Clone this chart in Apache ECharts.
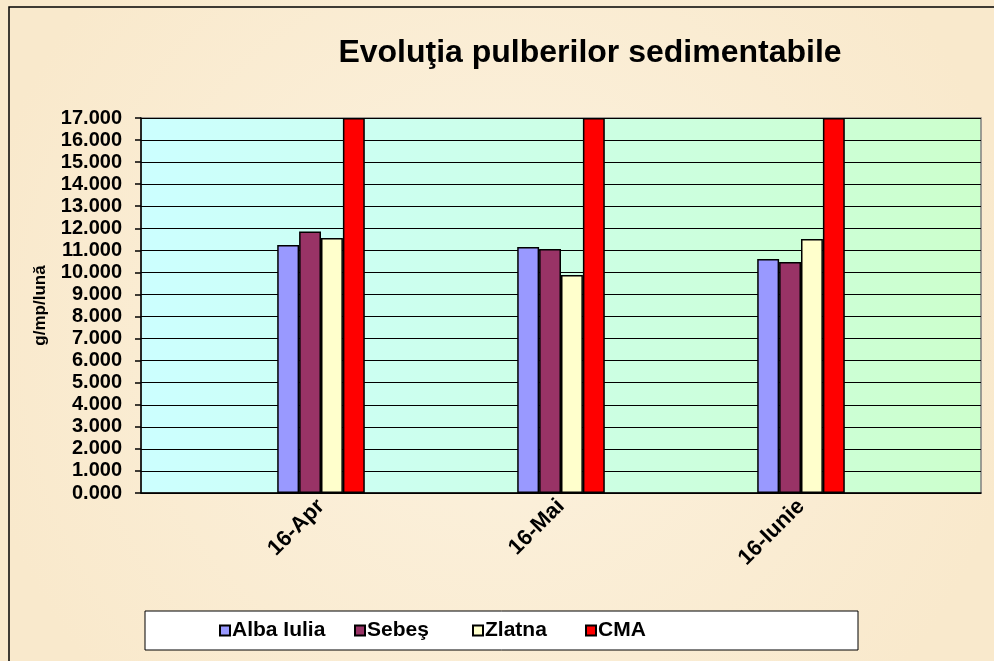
<!DOCTYPE html>
<html>
<head>
<meta charset="utf-8">
<script src="https://cdn.jsdelivr.net/npm/echarts@6/dist/echarts.min.js"></script>
<style>
  html, body { margin: 0; padding: 0; background: #f9ebd2; }
  #chart { width: 994px; height: 661px; }
</style>
</head>
<body>
<div id="chart"></div>
<script>
// Excel-style date axis: 7 slots, data only on every second one
const categories = ['', '16-Apr', '', '16-Mai', '', '16-Iunie', '']
const albaIulia = [null, 11.24, null, 11.15, null, 10.61, null]
const sebes = [null, 11.85, null, 11.06, null, 10.47, null]
const zlatna = [null, 11.56, null, 9.88, null, 11.51, null]
const cma = [null, 17, null, 17, null, 17, null]
const seriesNames = ['Alba Iulia', 'Sebeş', 'Zlatna', 'CMA']
const seriesColors = ['#9999ff', '#993366', '#ffffcc', '#ff0000']
const yMax = 17
const yStep = 1

const font = "'Liberation Sans', Arial, sans-serif"
const chart = echarts.init(document.getElementById('chart'))

const legendLeft = [219, 354, 472, 585]

function bar(name, data, color) {
  return {
    name,
    type: 'bar',
    data,
    barGap: '0%',
    barCategoryGap: '27%',
    itemStyle: { color, borderColor: '#000', borderWidth: 1.5 },
  }
}

chart.setOption({
  backgroundColor: new echarts.graphic.RadialGradient(0.5, 0.5, 0.8, [
    { offset: 0, color: '#fcf2df' },
    { offset: 1, color: '#f9e9cc' },
  ]),
  animation: false,
  title: {
    text: 'Evoluţia pulberilor sedimentabile',
    left: 585,
    textAlign: 'center',
    top: 32,
    textStyle: { fontFamily: font, fontSize: 32, fontWeight: 'bold', color: '#000' },
  },
  graphic: [
    {
      type: 'rect',
      shape: { x: 9, y: 7, width: 1000, height: 700 },
      style: { fill: 'none', stroke: '#000', lineWidth: 1.5 },
      z: 0,
    },
    {
      type: 'rect',
      shape: { x: 145, y: 611, width: 713, height: 39 },
      style: { fill: '#fff', stroke: '#000', lineWidth: 1 },
      z: 1,
    },
  ],
  legend: seriesNames.map((n, i) => ({
    data: [n],
    left: legendLeft[i],
    top: 620,
    icon: 'rect',
    itemWidth: 10,
    itemHeight: 10,
    itemGap: 0,
    padding: 0,
    z: 5,
    textStyle: { fontFamily: font, fontSize: 21, fontWeight: 'bold', color: '#000', padding: [0, 0, 0, -3] },
  })),
  grid: {
    left: 141,
    right: 13,
    top: 118,
    bottom: 168,
    show: true,
    borderColor: '#808080',
    borderWidth: 1.5,
    backgroundColor: new echarts.graphic.LinearGradient(0, 0, 1, 0, [
      { offset: 0, color: '#ccffff' },
      { offset: 1, color: '#ccffcc' },
    ]),
  },
  xAxis: {
    type: 'category',
    data: categories,
    axisLine: { lineStyle: { color: '#000', width: 1.5 } },
    axisTick: { length: 8, lineStyle: { color: '#000', width: 1.5 } },
    axisLabel: {
      interval: 0,
      rotate: 45,
      margin: 10,
      fontFamily: font,
      fontSize: 22,
      fontWeight: 'bold',
      color: '#000',
    },
  },
  yAxis: {
    type: 'value',
    min: 0,
    max: yMax,
    interval: yStep,
    name: 'g/mp/lună',
    nameLocation: 'middle',
    nameRotate: 90,
    nameGap: 92,
    nameTextStyle: { fontFamily: font, fontSize: 17, fontWeight: 'bold', color: '#000' },
    axisLine: { show: true, lineStyle: { color: '#000', width: 1.5 } },
    axisTick: { show: true, length: 6, lineStyle: { color: '#000', width: 1.5 } },
    splitLine: { lineStyle: { color: '#000', width: 1 } },
    axisLabel: {
      margin: 19,
      fontFamily: font,
      fontSize: 20,
      fontWeight: 'bold',
      color: '#000',
      formatter: (v) => v.toFixed(3),
    },
  },
  series: seriesNames.map((n, i) => bar(n, [albaIulia, sebes, zlatna, cma][i], seriesColors[i])),
})
</script>
</body>
</html>
